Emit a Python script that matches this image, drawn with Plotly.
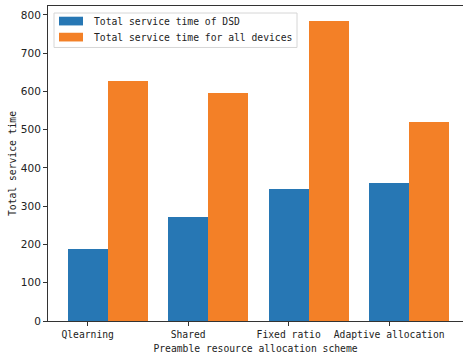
import plotly.graph_objects as go

categories = ["Qlearning", "Shared", "Fixed ratio", "Adaptive allocation"]
dsd_time = [188, 272, 345, 361]
all_time = [626, 597, 784, 521]
series_names = ["Total service time of DSD", "Total service time for all devices"]
y_ticks = [0, 100, 200, 300, 400, 500, 600, 700, 800]

BLUE = "#2777b4"
ORANGE = "#f38027"
MONO = "DejaVu Sans Mono"
SANS = "DejaVu Sans"

W, H = 463, 355
L, R, T, B = 48, 0, 6.3, 34.3
pw, ph = W - L - R, H - T - B

def px_x(x):
    return (x - L) / pw

def px_y(y):
    return 1 - (y - T) / ph

xpos = list(range(len(categories)))

fig = go.Figure()
fig.add_trace(go.Bar(x=xpos, y=dsd_time, width=0.4, offset=-0.2,
                     marker=dict(color=BLUE, line=dict(width=0)), name=series_names[0]))
fig.add_trace(go.Bar(x=xpos, y=all_time, width=0.4, offset=0.2,
                     marker=dict(color=ORANGE, line=dict(width=0)), name=series_names[1]))

ymax = max(all_time + dsd_time) * 1.05

fig.update_layout(
    width=W, height=H,
    margin=dict(l=L, r=R, t=T, b=B, pad=0),
    paper_bgcolor="white", plot_bgcolor="white",
    showlegend=False, barmode="overlay", bargap=0,
    xaxis=dict(range=[-0.395, 3.735], tickvals=xpos, ticktext=categories,
               showline=True, linecolor="#333", linewidth=1, mirror=True,
               ticks="outside", ticklen=4, tickcolor="#333", showgrid=False, zeroline=False,
               tickfont=dict(family=MONO, size=9.7, color="#222"),
               title=dict(text="Preamble resource allocation scheme",
                          font=dict(family=MONO, size=9.7, color="#222"), standoff=6),
               automargin=False),
    yaxis=dict(range=[0, ymax], tickvals=y_ticks,
               showline=True, linecolor="#333", linewidth=1, mirror=False,
               ticks="outside", ticklen=4, tickcolor="#333", showgrid=False, zeroline=False,
               tickfont=dict(family=SANS, size=10.5, color="#222"),
               title=dict(text="Total service time",
                          font=dict(family=MONO, size=9.7, color="#222"), standoff=2),
               automargin=False),
)

# legend (matplotlib-style box)
fig.add_shape(type="rect", xref="paper", yref="paper",
              x0=px_x(54), x1=px_x(297), y0=px_y(47.7), y1=px_y(13.3),
              line=dict(color="#d6d6d6", width=1), fillcolor="rgba(255,255,255,0.8)")
legend_rows = [(17, 25.7, 21.5, BLUE), (33, 41.7, 37.3, ORANGE)]
for (y0, y1, yc, col), name in zip(legend_rows, series_names):
    fig.add_shape(type="rect", xref="paper", yref="paper",
                  x0=px_x(59), x1=px_x(83), y0=px_y(y1), y1=px_y(y0),
                  line=dict(width=0), fillcolor=col)
    fig.add_annotation(text=name, xref="paper", yref="paper",
                       x=px_x(91.5), y=px_y(yc), xanchor="left", yanchor="middle",
                       showarrow=False, font=dict(family=MONO, size=9.7, color="#222"))

fig.write_html("out.html")
